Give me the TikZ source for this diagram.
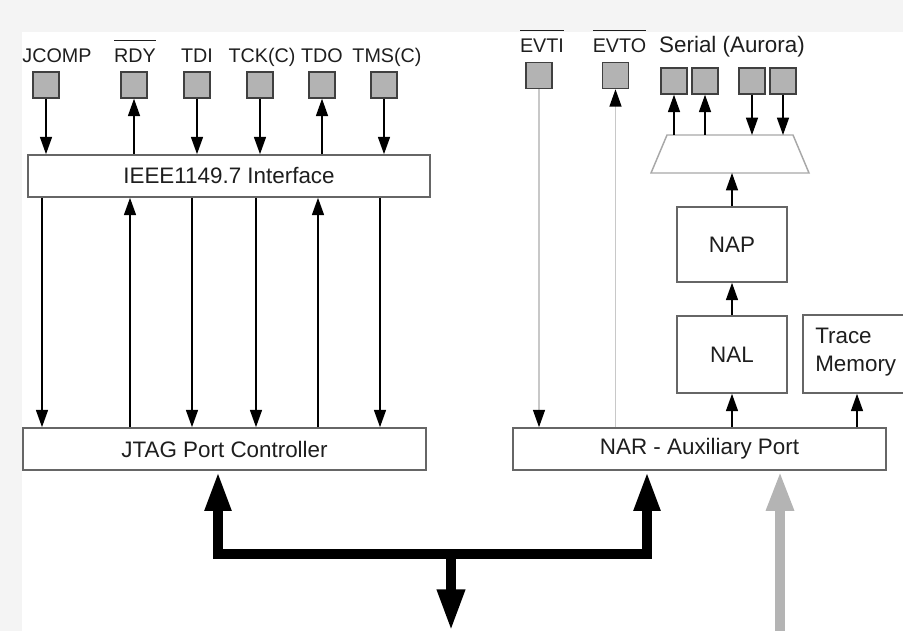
\documentclass[tikz,border=0pt]{standalone}
\usepackage{fontspec}
\setmainfont{Liberation Sans}
\usetikzlibrary{arrows.meta}
\definecolor{boxline}{HTML}{666666}
\definecolor{trapline}{HTML}{A8A8A8}
\definecolor{sqfill}{HTML}{B3B3B3}
\definecolor{sqline}{HTML}{404040}
\definecolor{txt}{HTML}{1E1E1E}
\definecolor{thinline}{HTML}{C8C8C8}
\definecolor{busgray}{HTML}{B4B4B4}
\definecolor{bgtex}{HTML}{F4F4F4}
\newcommand{\myboxfont}{\fontsize{16.8}{21}\selectfont}
\newcommand{\mylblfont}{\fontsize{14.8}{18}\selectfont}
\newcommand{\myovl}[1]{\setbox0\hbox{#1}\rlap{\rule[\dimexpr\ht0+6pt\relax]{\wd0}{0.8pt}}\box0}
\tikzset{
  box/.style={draw=boxline, line width=1.2pt, fill=white, inner sep=0pt, font=\myboxfont, text=txt},
  pad/.style={draw=sqline, fill=sqfill, line width=1.1pt, minimum size=19.5pt, inner sep=0pt},
  lbl/.style={font=\mylblfont, text=txt, anchor=base, inner sep=0pt},
  arr/.style={draw=black, line width=1.1pt, -{Triangle[width=9pt,length=13pt]}},
  grayarr/.style={draw=thinline, line width=0.9pt, -{Triangle[width=9pt,length=13pt,color=black]}},
  busarr/.style={draw=black, line width=8pt, line join=miter}
}
\begin{document}
\begin{tikzpicture}[x=0.75pt,y=-0.75pt]
\useasboundingbox (0,0) rectangle (903,631);
\fill[bgtex] (0,0) rectangle (903,32);
\fill[bgtex] (0,0) rectangle (22,631);

% boxes
\node[box, minimum width=301.5pt, minimum height=31.5pt] (ieee) at (229,176) {IEEE1149.7 Interface};
\node[box, minimum width=302.25pt, minimum height=31.5pt] (jtag) at (224.5,449) {JTAG Port Controller};
\node[box, minimum width=279.75pt, minimum height=31.5pt] (nar) at (699.5,449) {NAR - Auxiliary Port};
\node[box, minimum width=82.5pt, minimum height=56.25pt] (nap) at (732,244.5) {NAP};
\node[box, minimum width=82.5pt, minimum height=57.75pt] (nal) at (732,354.5) {NAL};
\node[box, minimum width=76.5pt, minimum height=58.5pt] (trace) at (854,354) {};
\node[font=\myboxfont, text=txt, align=left, anchor=west, inner sep=0pt] (tracetxt) at (815,352) {Trace\\Memory};

% trapezoid (serializer)
\coordinate (trapN) at (730,135);
\coordinate (trapS) at (730,173);
\draw[draw=trapline, fill=white, line width=1.1pt, line join=miter]
  (651,173) -- (809,173) -- (793,135) -- (667,135) -- cycle;

% pads left
\node[pad] (p1) at (46,85) {};
\node[pad] (p2) at (134,85) {};
\node[pad] (p3) at (197,85) {};
\node[pad] (p4) at (260,85) {};
\node[pad] (p5) at (322,85) {};
\node[pad] (p6) at (384,85) {};
% pads right
\node[pad] (pevti) at (539,75.5) {};
\node[pad] (pevto) at (615.5,75.5) {};
\node[pad] (ps1) at (674,81) {};
\node[pad] (ps2) at (705,81) {};
\node[pad] (ps3) at (752,81) {};
\node[pad] (ps4) at (783,81) {};

% labels
\node[lbl] (l1) at (57,63) {JCOMP};
\node[lbl] (l2) at (135,63) {\myovl{RDY}};
\node[lbl] (l3) at (197,63) {TDI};
\node[lbl] (l4) at (262,63) {TCK(C)};
\node[lbl] (l5) at (322,63) {TDO};
\node[lbl] (l6) at (387,63) {TMS(C)};
\node[lbl] (levti) at (542,53) {\myovl{EVTI}};
\node[lbl] (levto) at (619.5,53) {\myovl{EVTO}};
\node[lbl, font=\myboxfont] (lserial) at (732,53) {Serial (Aurora)};

% top-left arrows
\draw[arr] (p1.south) -- (p1.south |- ieee.north);
\draw[arr] (p2.south |- ieee.north) -- (p2.south);
\draw[arr] (p3.south) -- (p3.south |- ieee.north);
\draw[arr] (p4.south) -- (p4.south |- ieee.north);
\draw[arr] (p5.south |- ieee.north) -- (p5.south);
\draw[arr] (p6.south) -- (p6.south |- ieee.north);

% IEEE <-> JTAG
\coordinate (c1) at (42,0);
\coordinate (c2) at (130,0);
\coordinate (c3) at (192,0);
\coordinate (c4) at (256,0);
\coordinate (c5) at (318,0);
\coordinate (c6) at (380,0);
\draw[arr] (c1 |- ieee.south) -- (c1 |- jtag.north);
\draw[arr] (c2 |- jtag.north) -- (c2 |- ieee.south);
\draw[arr] (c3 |- ieee.south) -- (c3 |- jtag.north);
\draw[arr] (c4 |- ieee.south) -- (c4 |- jtag.north);
\draw[arr] (c5 |- jtag.north) -- (c5 |- ieee.south);
\draw[arr] (c6 |- ieee.south) -- (c6 |- jtag.north);

% EVTI / EVTO
\draw[grayarr] (pevti.south) -- (pevti.south |- nar.north);
\draw[grayarr] (pevto.south |- nar.north) -- (pevto.south);

% serial
\draw[arr] (ps1.south |- trapN) -- (ps1.south);
\draw[arr] (ps2.south |- trapN) -- (ps2.south);
\draw[arr] (ps3.south) -- (ps3.south |- trapN);
\draw[arr] (ps4.south) -- (ps4.south |- trapN);

% stack
\draw[arr] (nap.north) -- (nap.north |- trapS);
\draw[arr] (nal.north) -- (nap.south);
\draw[arr] (nal.south |- nar.north) -- (nal.south);
\coordinate (tx) at (857,0);
\draw[arr] (tx |- nar.north) -- (tx |- trace.south);

% bus
\coordinate (b1) at (218,554);
\coordinate (b2) at (647,554);
\coordinate (b3) at (451,554);
\coordinate (bend) at (451,632);
\coordinate (g0) at (780,640);
\draw[busarr, {Triangle[width=18pt,length=30pt]}-{Triangle[width=18pt,length=30pt]}]
  (b1 |- jtag.south) -- (b1) -- (b2) -- (b2 |- nar.south);
\draw[busarr, -{Triangle[width=19pt,length=32pt]}] (b3) -- (bend);
\draw[busarr, draw=busgray, -{Triangle[width=19pt,length=30pt]}] (g0) -- (g0 |- nar.south);
\end{tikzpicture}
\end{document}
